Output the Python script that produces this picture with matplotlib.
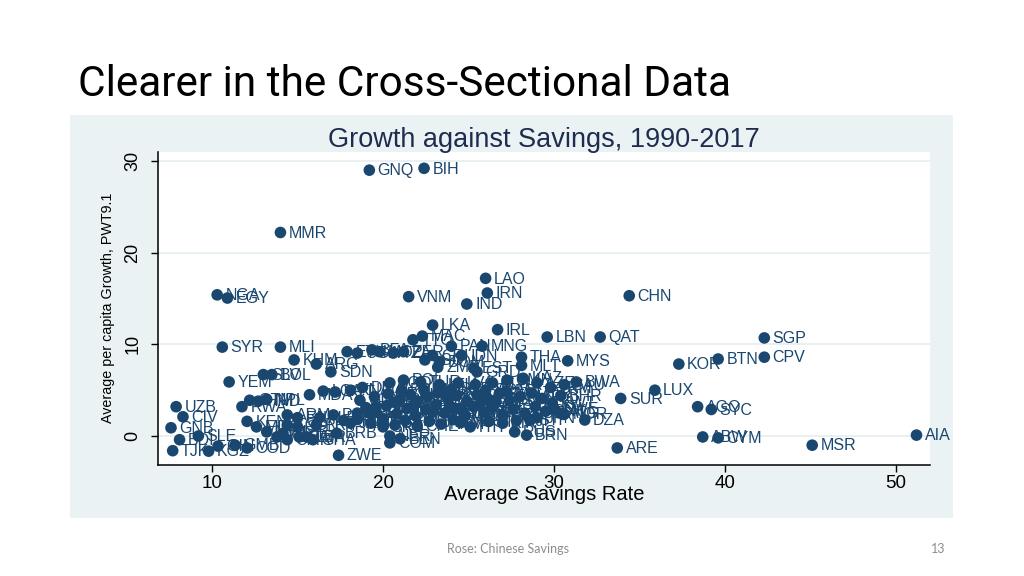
import matplotlib
matplotlib.use("Agg")
import matplotlib.pyplot as plt
from matplotlib.patches import Rectangle

# Growth against savings, 1990-2017
codes = [
    "GNQ", "BIH", "MMR", "NGA", "EGY", "VNM", "IND", "LAO", "IRN", "CHN",
    "LKA", "MAC", "TTO", "IRL", "LBN", "QAT", "SGP", "SYR", "MLI", "KHM",
    "ARG", "SDN", "SLV", "BOL", "YEM", "UZB", "CIV", "GNB", "BDI", "SLE",
    "TJK", "KGZ", "GIN", "GMB", "COD", "RWA", "GTM", "HND", "NPL", "KEN",
    "MDG", "MWI", "TGO", "ZWE", "ARM", "PAN", "MNG", "IDN", "THA", "MLT",
    "MYS", "KOR", "BTN", "CPV", "ZMB", "DOM", "EST", "GRD", "BWA", "SAU",
    "LUX", "SUR", "AGO", "SYC", "DZA", "ATG", "JPN", "HTI", "RUS", "BRN",
    "ARE", "ABW", "CYM", "MSR", "AIA", "COM", "BEN", "NER",
    "ETH", "UGA", "BFA", "MOZ", "TZA", "PER", "LSO", "CRI",
    "CMR", "CAF", "MRT", "TCD", "SEN", "LBR", "GHA", "PRY", "PAK", "PHL",
    "BRB", "JAM", "ECU", "GUY", "BLZ", "GEO", "SRB", "MDA", "LCA", "VCT",
    "KNA", "DMA", "FJI", "ALB",
    "BGD", "POL", "TUR", "LTU", "LVA", "SVK", "BLR", "OMN", "KAZ", "AZE", "TKM",
    "CHL", "PRT", "ROU", "HUN", "CZE", "SVN", "HRV", "BGR", "UKR", "MKD",
    "MNE", "GAB", "COG", "TUN", "MAR", "JOR", "IRQ", "KWT", "BHR",
    "COL", "MEX", "BRA", "URY", "ISR", "GRC", "ESP", "AUS", "NZL", "CAN",
    "GBR", "USA", "FRA", "ITA", "BEL", "DEU", "AUT", "NLD", "DNK", "SWE", "NOR",
    "VEN", "BHS", "CYP", "ISL", "FIN", "CHE", "ZAF", "NAM", "SWZ", "MUS",
    "MDV", "KIR", "DJI", "STP",
    "LBY", "PNG", "SLB", "VUT", "WSM", "TON", "TLS", "ERI", "PRI", "HKG",
    "CUB", "SSD", "SOM",
]
savings = [
    19.2, 22.4, 14.0, 10.3, 10.9, 21.5, 24.9, 26.0, 26.1, 34.4,
    22.9, 22.3, 21.75, 26.7, 29.6, 32.7, 42.3, 10.6, 14.0, 14.8,
    16.1, 16.95, 13.0, 13.5, 11.0, 7.9, 8.3, 7.6, 8.1, 9.2,
    7.7, 9.8, 10.35, 11.35, 12.05, 11.75, 12.2, 12.7, 13.2, 12.05,
    12.6, 13.2, 13.8, 17.4, 14.4, 24.0, 25.8, 24.6, 28.1, 28.1,
    30.8, 37.3, 39.6, 42.3, 23.2, 23.3, 25.3, 25.5, 31.3, 30.6,
    35.9, 33.9, 38.4, 39.2, 31.8, 30.35, 29.0, 25.1, 27.7, 28.4,
    33.7, 38.7, 39.6, 45.1, 51.2, 20.4, 21.0, 20.4,
    17.9, 18.5, 19.35, 19.8, 20.6, 21.2, 22.45, 22.9,
    14.4, 15.1, 14.15, 14.4, 15.0, 15.55, 15.9, 16.1, 17.1, 17.7,
    17.3, 18.1, 18.5, 18.65, 19.2, 19.6, 20.0, 15.7, 16.5, 17.2,
    18.1, 18.8, 15.0, 16.3,
    20.4, 21.2, 22.2, 23.3, 24.4, 25.4, 26.4, 27.25, 28.2, 29.0, 29.8,
    19.5, 20.3, 21.0, 21.6, 22.0, 22.6, 23.2, 23.8, 24.3, 24.9,
    25.5, 26.1, 26.8, 27.4, 28.0, 28.7, 29.3, 29.9, 30.4,
    19.0, 19.6, 20.2, 20.8, 21.4, 21.9, 22.5, 23.1, 23.6, 24.2,
    24.8, 25.3, 25.9, 26.4, 27.0, 27.6, 28.3, 28.9, 29.5, 30.0, 30.6,
    18.5, 19.3, 20.0, 20.7, 21.3, 22.0, 22.7, 23.4, 24.1, 24.6,
    26.2, 27.0, 27.8, 28.6,
    20.6, 21.8, 22.9, 23.5, 24.6, 25.7, 26.6, 27.2, 21.1, 22.4,
    23.9, 24.0, 26.0,
]
growth = [
    29.0, 29.2, 22.2, 15.4, 15.05, 15.2, 14.4, 17.2, 15.6, 15.3,
    12.1, 10.9, 10.5, 11.6, 10.8, 10.8, 10.7, 9.7, 9.7, 8.3,
    7.85, 7.0, 6.7, 6.7, 5.9, 3.2, 2.1, 0.9, -0.4, 0.0,
    -1.6, -1.65, -1.1, -1.0, -1.3, 3.2, 3.9, 3.8, 4.0, 1.6,
    1.0, 0.45, -0.1, -2.1, 2.3, 9.8, 9.8, 8.8, 8.6, 7.7,
    8.2, 7.85, 8.4, 8.6, 7.5, 8.1, 7.4, 7.0, 5.9, 5.6,
    5.0, 4.1, 3.2, 2.9, 1.75, 2.5, 2.0, 1.0, 0.45, 0.1,
    -1.3, -0.1, -0.2, -1.0, 0.1, -0.75, -0.3, 0.0,
    9.2, 9.05, 9.4, 9.2, 9.05, 9.2, 8.3, 8.8,
    -0.4, -0.1, 0.3, 1.2, 1.0, -0.1, -0.4, 1.2, 2.3, 1.7,
    0.3, 1.4, 2.5, 3.9, 2.5, 3.2, 1.0, 4.5, 4.9, 4.8,
    5.0, 5.3, 2.0, 2.0,
    5.8, 6.1, 5.9, 5.6, 5.8, 5.6, 5.8, 6.1, 6.3, 5.8, 5.3,
    4.3, 4.6, 4.0, 4.5, 3.8, 4.3, 4.7, 4.0, 4.4, 3.8,
    4.5, 4.1, 4.6, 3.9, 4.3, 4.7, 4.1, 3.6, 4.4,
    3.1, 2.6, 3.3, 2.4, 3.0, 2.2, 2.9, 3.4, 2.5, 3.0,
    2.2, 3.2, 2.6, 3.1, 2.3, 2.9, 2.5, 3.2, 2.7, 3.0, 2.4,
    1.8, 1.4, 1.9, 1.2, 1.7, 1.1, 1.6, 1.3, 1.8, 1.5,
    1.6, 1.4, 1.7, 1.8,
    3.7, 3.4, 2.6, 4.9, 2.8, 3.6, 3.8, 4.9, 5.0, 5.0,
    3.3, 5.1, 5.0,
]

x_ticks = [10, 20, 30, 40, 50]
y_ticks = [0, 10, 20, 30]

navy = "#1a476f"
stata_bg = "#eaf2f3"
W, H = 1024, 576

fig = plt.figure(figsize=(10.24, 5.76), dpi=100)
fig.patch.set_facecolor("white")

# slide title and footer
fig.text(78 / W, 1 - 85 / H, "Clearer in the Cross-Sectional Data",
         family=["Roboto", "DejaVu Sans"], fontweight="normal", fontsize=30.5,
         color="black", ha="left", va="center")
fig.text(508 / W, 1 - 549 / H, "Rose: Chinese Savings", fontsize=9,
         color="#8c8c8c", ha="center", va="center", family="Lato")
fig.text(938 / W, 1 - 549 / H, "13", fontsize=9, color="#8c8c8c",
         ha="center", va="center", family="Lato")

# embedded Stata graph background
fig.patches.append(Rectangle((70 / W, 1 - 518 / H), (953 - 70) / W, (518 - 115) / H,
                             transform=fig.transFigure, facecolor=stata_bg,
                             edgecolor="none", zorder=-1))

ax = fig.add_axes([158 / W, 1 - 465 / H, (930 - 158) / W, (465 - 152) / H])
ax.set_zorder(2)
ax.set_facecolor("white")
ax.set_xlim(6.84, 51.99)
ax.set_ylim(-3.16, 30.98)

ax.scatter(savings, growth, s=70, color=navy, edgecolors="none", zorder=3)
for c, x, y in zip(codes, savings, growth):
    ax.annotate(c, (x, y), xytext=(6, -0.5), textcoords="offset points",
                ha="left", va="center", fontsize=11.5, color=navy,
                family="Liberation Sans", zorder=4)

ax.set_xticks(x_ticks)
ax.set_yticks(y_ticks)
ax.set_xticklabels([str(t) for t in x_ticks], family="Liberation Sans", fontsize=13.5)
ax.set_yticklabels([str(t) for t in y_ticks], family="Liberation Sans", fontsize=13,
                   rotation=90, va="center")
ax.tick_params(axis="x", direction="out", length=5, width=1, pad=2, colors="black")
ax.tick_params(axis="y", direction="out", length=5, width=1, pad=7, colors="black")
ax.grid(axis="y", color="#e3ecee", lw=1.1, zorder=0)
ax.set_axisbelow(True)
for side in ["top", "right"]:
    ax.spines[side].set_visible(False)
for side in ["left", "bottom"]:
    ax.spines[side].set_linewidth(1.1)
    ax.spines[side].set_color("black")

fig.text(544 / W, 1 - 140 / H, "Growth against Savings, 1990-2017",
         family="Liberation Sans", fontsize=19.5, color="#1e2d4f",
         ha="center", va="center")
fig.text(544 / W, 1 - 494 / H, "Average Savings Rate", family="Liberation Sans",
         fontsize=14.5, color="black", ha="center", va="center")
fig.text(108 / W, 1 - 308 / H, "Average per capita Growth, PWT9.1",
         family="Liberation Sans", fontsize=10.3, color="black", rotation=90,
         ha="center", va="center")

fig.savefig("out.png", dpi=100, facecolor="white")
